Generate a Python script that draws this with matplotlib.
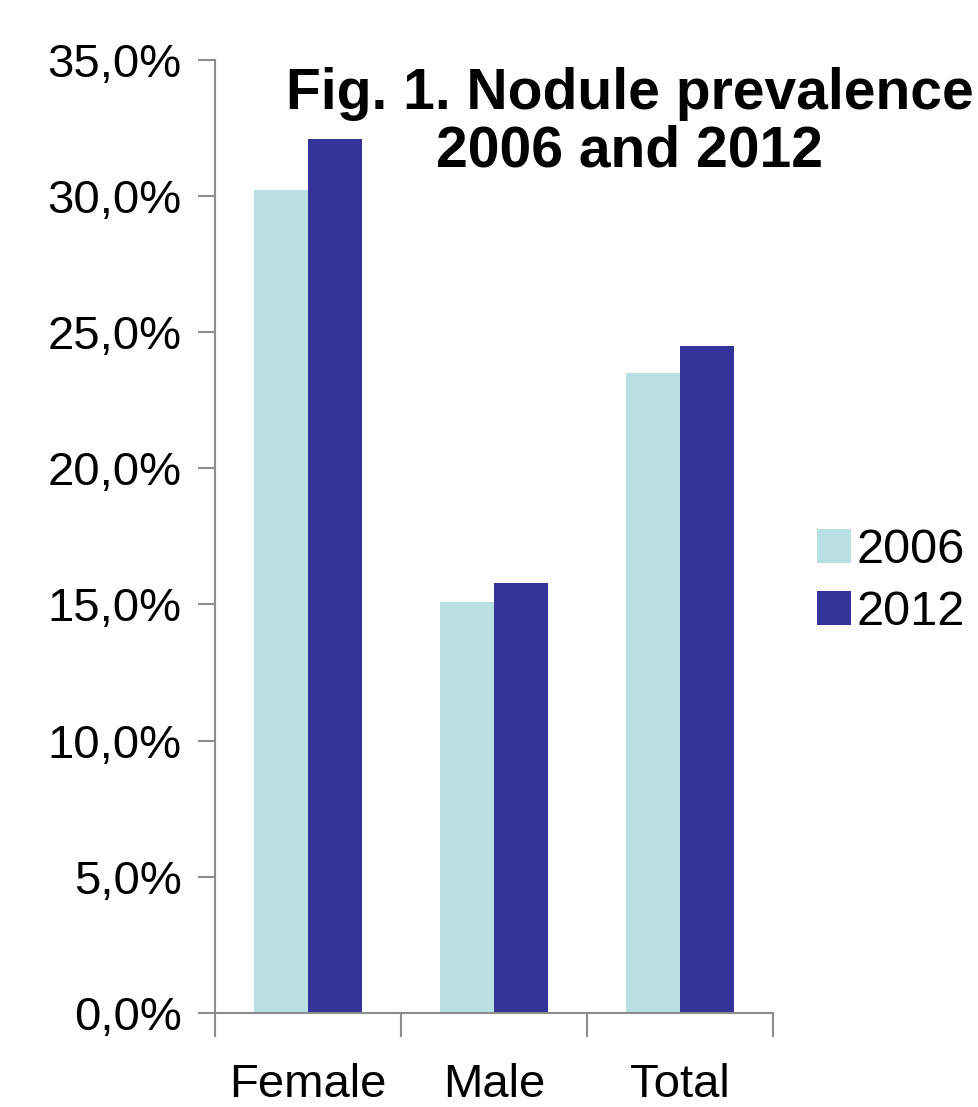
import numpy as np
import matplotlib

matplotlib.use("Agg")
import matplotlib.pyplot as plt
from matplotlib.ticker import FuncFormatter

plt.rcParams["font.family"] = ["Liberation Sans", "DejaVu Sans"]

categories = ["Female", "Male", "Total"]
series_names = ["2006", "2012"]
prev_2006 = [30.2, 15.1, 23.5]
prev_2012 = [32.1, 15.8, 24.5]
y_ticks = [0, 5, 10, 15, 20, 25, 30, 35]

COL_2006 = "#B8DFE2"
COL_2012 = "#333399"
AXIS_COL = "#8C8C8C"

fig = plt.figure(figsize=(9.79, 11.07), dpi=100)
ax = fig.add_axes([0.2196, 0.085, 0.79 - 0.2196, 0.861])

x = np.arange(len(categories))
w = 0.29
ax.bar(x - w / 2, prev_2006, width=w, color=COL_2006, label=series_names[0])
ax.bar(x + w / 2, prev_2012, width=w, color=COL_2012, label=series_names[1])

ax.set_xlim(-0.5, len(categories) - 0.5)
ax.set_ylim(0, 35)
ax.set_yticks(y_ticks)
ax.yaxis.set_major_formatter(FuncFormatter(lambda v, _: f"{v:.1f}%".replace(".", ",")))

ax.set_xticks(x)
ax.set_xticklabels(categories)
ax.set_xticks(np.arange(-0.5, len(categories)), minor=True)
ax.tick_params(axis="x", which="major", length=0, pad=36, labelsize=34)
ax.tick_params(axis="x", which="minor", length=17, width=1.5, color=AXIS_COL, direction="out")
ax.tick_params(axis="y", length=12, width=1.5, color=AXIS_COL, direction="out", pad=12, labelsize=34)

for side in ["top", "right"]:
    ax.spines[side].set_visible(False)
for side in ["left", "bottom"]:
    ax.spines[side].set_color(AXIS_COL)
    ax.spines[side].set_linewidth(1.5)

fig.text(0.643, 0.889, "Fig. 1. Nodule prevalence\n2006 and 2012", ha="center", va="center",
         fontsize=41, fontweight="bold", linespacing=1.1)

ax.legend(loc="center left", bbox_to_anchor=(0.835, 0.475), bbox_transform=fig.transFigure,
          frameon=False, fontsize=35, handlelength=0.7, handleheight=0.7, handletextpad=0.1,
          labelspacing=0.35, borderaxespad=0, borderpad=0)

fig.savefig("out.png", dpi=100)
